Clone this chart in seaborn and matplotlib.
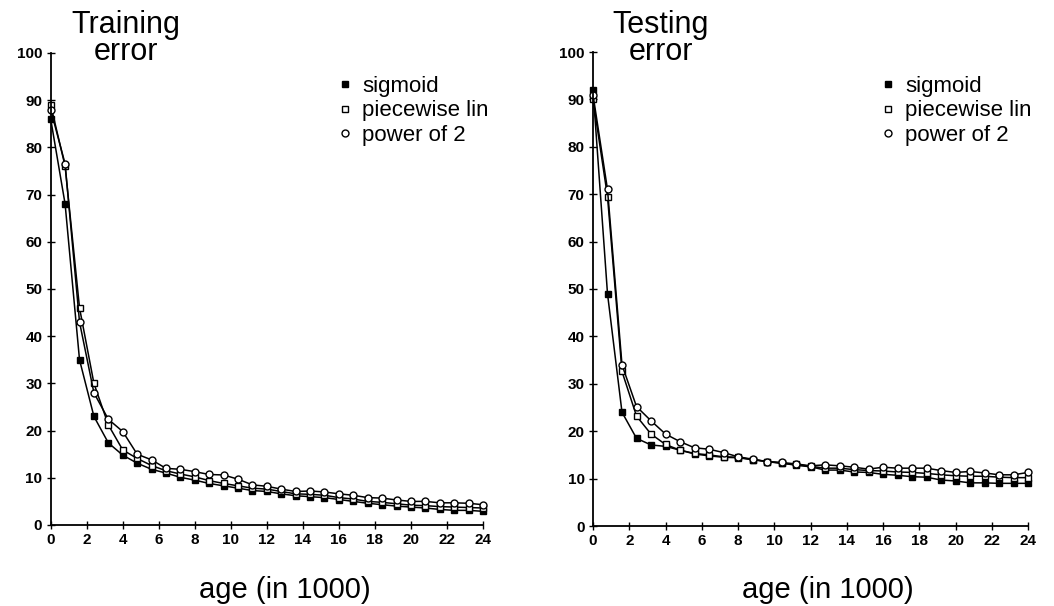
import matplotlib
matplotlib.use("Agg")
import matplotlib.pyplot as plt
from matplotlib.lines import Line2D
import seaborn as sns
import pandas as pd

# age in thousands, one point every 800 steps
age = [0, 0.8, 1.6, 2.4, 3.2, 4.0, 4.8, 5.6, 6.4, 7.2, 8.0, 8.8, 9.6, 10.4, 11.2, 12.0,
       12.8, 13.6, 14.4, 15.2, 16.0, 16.8, 17.6, 18.4, 19.2, 20.0, 20.8, 21.6, 22.4, 23.2, 24.0]

train_sigmoid = [86, 68, 35, 23, 17.4, 14.8, 13.1, 11.8, 11.0, 10.1, 9.5, 8.8, 8.3, 7.8, 7.3, 7.1,
                 6.6, 6.2, 6.0, 5.8, 5.4, 5.0, 4.6, 4.3, 4.0, 3.8, 3.6, 3.3, 3.1, 3.1, 2.9]
train_piecewise = [89, 76, 46, 30, 21.2, 15.9, 14.1, 12.6, 11.5, 10.8, 10.2, 9.4, 8.8, 8.3, 7.8, 7.6,
                   7.1, 6.6, 6.5, 6.3, 5.8, 5.5, 5.0, 4.8, 4.5, 4.2, 4.1, 3.9, 3.8, 3.7, 3.6]
train_power = [88, 76.5, 43, 28, 22.4, 19.8, 15.0, 13.8, 12.0, 11.8, 11.3, 10.7, 10.6, 9.7, 8.5, 8.2,
               7.6, 7.1, 7.2, 7.0, 6.6, 6.3, 5.8, 5.7, 5.3, 5.0, 5.0, 4.7, 4.7, 4.6, 4.3]

test_sigmoid = [92, 49, 24, 18.5, 17.1, 16.8, 16.0, 15.2, 14.8, 14.5, 14.4, 14.0, 13.6, 13.3, 12.8, 12.5,
                11.8, 11.8, 11.4, 11.3, 10.9, 10.7, 10.4, 10.3, 9.7, 9.5, 9.1, 9.1, 9.0, 9.0, 9.0]
test_piecewise = [90, 69.5, 32.6, 23.2, 19.4, 17.2, 16.0, 15.3, 15.0, 14.6, 14.5, 14.0, 13.6, 13.2, 13.0, 12.6,
                  12.2, 12.2, 11.9, 11.7, 11.6, 11.4, 11.3, 11.1, 10.8, 10.6, 10.5, 10.5, 10.3, 10.2, 10.2]
test_power = [91, 71, 34, 25.2, 22.2, 19.4, 17.8, 16.5, 16.2, 15.5, 14.6, 14.1, 13.6, 13.4, 13.1, 12.7,
              12.9, 12.7, 12.4, 12.0, 12.4, 12.2, 12.2, 12.2, 11.7, 11.3, 11.5, 11.2, 10.8, 10.8, 11.3]

series_names = ["sigmoid", "piecewise lin", "power of 2"]
xticks = list(range(0, 25, 2))
yticks = list(range(0, 101, 10))

sns.set_style("ticks")
plt.rcParams["font.family"] = ["Liberation Sans", "DejaVu Sans"]
plt.rcParams["text.color"] = "black"
plt.rcParams["xtick.color"] = "black"
plt.rcParams["ytick.color"] = "black"
plt.rcParams["axes.labelcolor"] = "black"

# marker style per series
styles = {
    "sigmoid": dict(marker="s", markerfacecolor="black", markersize=5),
    "piecewise lin": dict(marker="s", markerfacecolor="white", markersize=5),
    "power of 2": dict(marker="o", markerfacecolor="white", markersize=5),
}


def make_frame(values):
    rows = []
    for name, vals in zip(series_names, values):
        for a, v in zip(age, vals):
            rows.append({"age": a, "error": v, "type": name})
    return pd.DataFrame(rows)


def draw_panel(ax, df):
    for name in series_names:
        sub = df[df["type"] == name]
        sns.lineplot(data=sub, x="age", y="error", ax=ax, color="black", linewidth=1.1,
                     markeredgecolor="black", markeredgewidth=1.0, clip_on=False,
                     legend=False, **styles[name])
    ax.set_xlim(0, 24)
    ax.set_ylim(0, 100)
    ax.set_xticks(xticks)
    ax.set_yticks(yticks)
    ax.set_xlabel("")
    ax.set_ylabel("")
    sns.despine(ax=ax)
    for s in ["left", "bottom"]:
        ax.spines[s].set_linewidth(1.3)
        ax.spines[s].set_color("black")
    ax.tick_params(direction="inout", length=6, width=1, colors="black",
                   labelcolor="black", labelsize=11, pad=3)
    for lab in ax.get_xticklabels() + ax.get_yticklabels():
        lab.set_fontweight("bold")

    handles = [Line2D([], [], linestyle="none", markeredgecolor="black",
                      markeredgewidth=1.0, **styles[n]) for n in series_names]
    return handles


fig = plt.figure(figsize=(10.54, 6.06), dpi=100)
ax1 = fig.add_axes([50.7 / 1054, 81 / 606, 432.3 / 1054, 472 / 606])
ax2 = fig.add_axes([593 / 1054, 80 / 606, 435 / 1054, 474 / 606])

h1 = draw_panel(ax1, make_frame([train_sigmoid, train_piecewise, train_power]))
h2 = draw_panel(ax2, make_frame([test_sigmoid, test_piecewise, test_power]))

for ax, h, lx in [(ax1, h1, 338), (ax2, h2, 881)]:
    leg = ax.legend(h, series_names, loc="upper left", bbox_to_anchor=(lx / 1054, 1 - 76 / 606),
                    bbox_transform=fig.transFigure, frameon=False, fontsize=16,
                    handlelength=0.6, handletextpad=0.5, labelspacing=0.15,
                    borderpad=0, borderaxespad=0)
    for t in leg.get_texts():
        t.set_color("black")

fig.text(126 / 1054, 1 - 10 / 606, "Training\nerror", ha="center", va="top",
         fontsize=22, linespacing=0.85, color="black")
fig.text(661 / 1054, 1 - 10 / 606, "Testing\nerror", ha="center", va="top",
         fontsize=22, linespacing=0.85, color="black")

fig.text(285 / 1054, 16 / 606, "age (in 1000)", ha="center", va="center",
         fontsize=21, color="black")
fig.text(828 / 1054, 16 / 606, "age (in 1000)", ha="center", va="center",
         fontsize=21, color="black")

fig.savefig("out.png", dpi=100)
